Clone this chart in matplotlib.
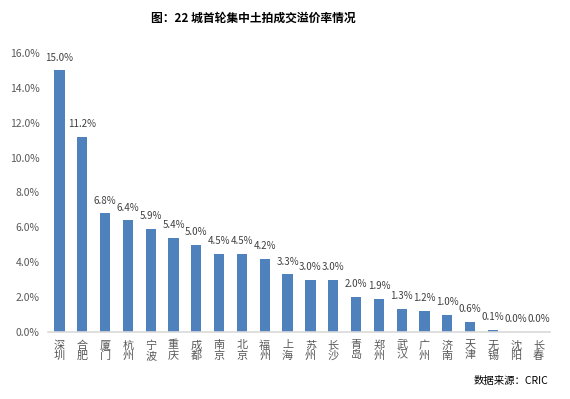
import matplotlib
matplotlib.use("Agg")
import matplotlib.pyplot as plt
from matplotlib.ticker import FuncFormatter

plt.rcParams["font.family"] = ["Noto Sans CJK SC", "DejaVu Sans"]

cities = ["深圳", "合肥", "厦门", "杭州", "宁波", "重庆", "成都", "南京", "北京", "福州", "上海",
          "苏州", "长沙", "青岛", "郑州", "武汉", "广州", "济南", "天津", "无锡", "沈阳", "长春"]
premium_rate = [15.0, 11.2, 6.8, 6.4, 5.9, 5.4, 5.0, 4.5, 4.5, 4.2, 3.3,
                3.0, 3.0, 2.0, 1.9, 1.3, 1.2, 1.0, 0.6, 0.1, 0.0, 0.0]
y_ticks = [0, 2, 4, 6, 8, 10, 12, 14, 16]

text_color = "#595959"
bar_color = "#4F81BD"

fig = plt.figure(figsize=(5.7, 3.99), dpi=100)
ax = fig.add_axes([48 / 570, 1 - 332 / 399, 502 / 570, (332 - 53) / 399])

x = list(range(len(cities)))
ax.bar(x, premium_rate, width=0.45, color=bar_color, zorder=2)

for xi, v in zip(x, premium_rate):
    ax.text(xi, v + 0.45, f"{v:.1f}%", ha="center", va="bottom",
            fontsize=7, color="#404040")

ax.set_xlim(-0.5, len(cities) - 0.5)
ax.set_ylim(0, 16)
ax.set_yticks(y_ticks)
ax.yaxis.set_major_formatter(FuncFormatter(lambda v, _: f"{v:.1f}%"))
ax.set_xticks(x)
ax.set_xticklabels(["\n".join(c) for c in cities], linespacing=1.0)

ax.tick_params(axis="y", length=0, labelsize=7.5, labelcolor=text_color, pad=6)
ax.tick_params(axis="x", length=0, labelsize=8, labelcolor=text_color, pad=6)

for side in ["top", "right", "left"]:
    ax.spines[side].set_visible(False)
ax.spines["bottom"].set_color("#D9D9D9")
ax.spines["bottom"].set_linewidth(1.2)

fig.text(253 / 570, 1 - 18 / 399, "图：22 城首轮集中土拍成交溢价率情况", ha="center", va="center",
         fontsize=8.5, fontweight="bold", color="black")
fig.text(548 / 570, 1 - 381 / 399, "数据来源：CRIC", ha="right", va="center",
         fontsize=7.5, color="black")

fig.savefig("out.png", dpi=100, facecolor="white")
